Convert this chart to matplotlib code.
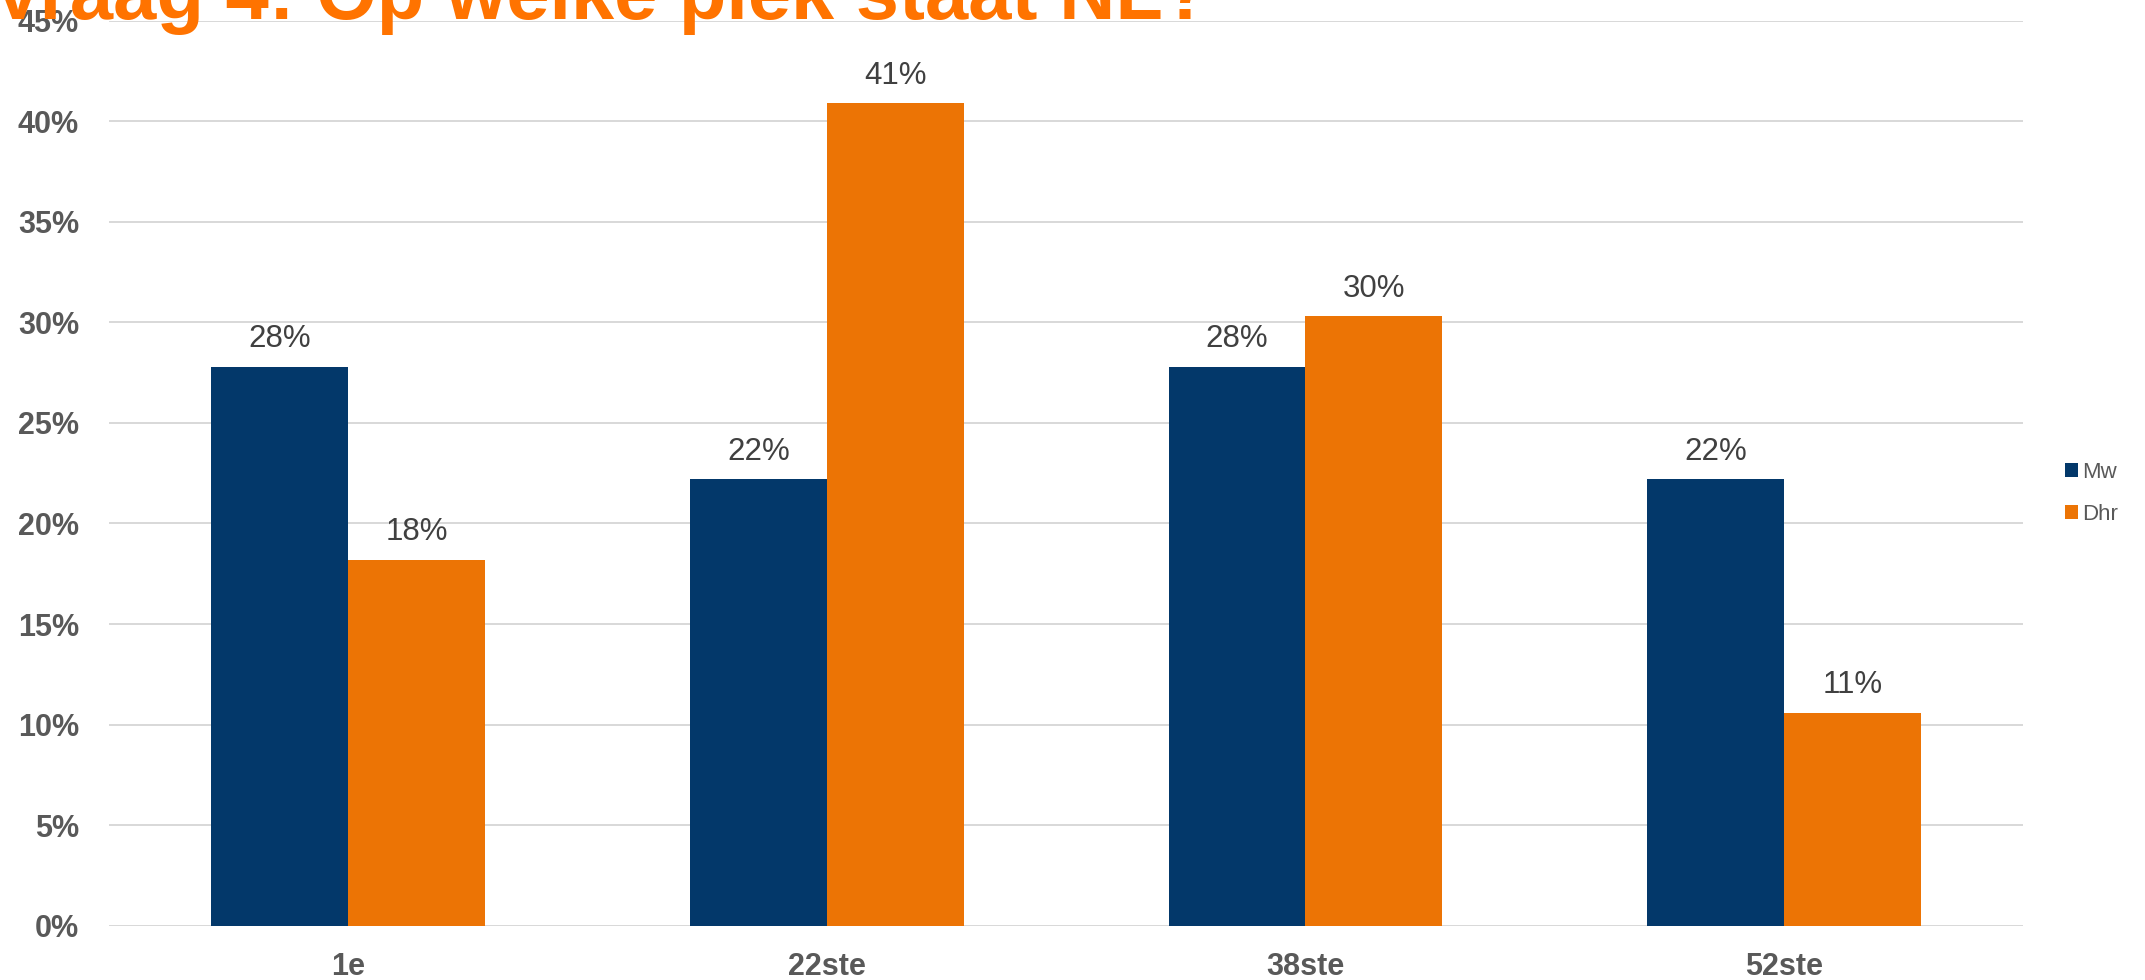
import matplotlib
matplotlib.use("Agg")
import matplotlib.pyplot as plt
import numpy as np
from matplotlib.patches import Patch

plt.rcParams['font.family'] = ['Liberation Sans', 'DejaVu Sans']

# Survey results: share of answers per option, in percent
categories = ["1e", "22ste", "38ste", "52ste"]
mw_values = [27.8, 22.2, 27.8, 22.2]
dhr_values = [18.2, 40.9, 30.3, 10.6]
series_names = ["Mw", "Dhr"]
y_ticks = [0, 5, 10, 15, 20, 25, 30, 35, 40, 45]
title_text = "Vraag 4: Op welke plek staat NL?"

NAVY = "#03386A"
ORANGE = "#EC7405"
TITLE_ORANGE = "#FF7300"
GRID = "#D9D9D9"
TICK_GRAY = "#595959"
LABEL_GRAY = "#404040"

W, H, DPI = 2145, 980, 100
fig = plt.figure(figsize=(W / DPI, H / DPI), dpi=DPI)

# Plot area in pixel terms, converted to figure fractions
left_px, right_px = 109, 2023.3
top_px, bottom_px = 20.7, 925.7
ax = fig.add_axes([left_px / W, (H - bottom_px) / H,
                   (right_px - left_px) / W, (bottom_px - top_px) / H])

x = np.arange(len(categories))
bar_w = 0.286

bars_mw = ax.bar(x - bar_w / 2, mw_values, width=bar_w, color=NAVY, zorder=3)
bars_dhr = ax.bar(x + bar_w / 2, dhr_values, width=bar_w, color=ORANGE, zorder=3)

for bars, vals in ((bars_mw, mw_values), (bars_dhr, dhr_values)):
    for b, v in zip(bars, vals):
        ax.annotate(f"{v:.0f}%", xy=(b.get_x() + b.get_width() / 2, v),
                    xytext=(0, 13.9), textcoords="offset points",
                    ha="center", va="baseline", fontsize=22.5,
                    color=LABEL_GRAY, zorder=4)

ax.set_xlim(-0.5, len(categories) - 0.5)
ax.set_ylim(0, 45)
ax.set_yticks(y_ticks)
ax.set_yticklabels([f"{t}%" for t in y_ticks])
ax.set_xticks(x)
ax.set_xticklabels(categories)

ax.grid(axis="y", color=GRID, linewidth=1.44, zorder=0)
ax.set_axisbelow(True)
for s in ax.spines.values():
    s.set_visible(False)

ax.tick_params(axis="y", length=0, pad=21.6, labelsize=22, labelcolor=TICK_GRAY)
ax.tick_params(axis="x", length=0, pad=19.0, labelsize=22, labelcolor=TICK_GRAY)
for lbl in ax.get_yticklabels() + ax.get_xticklabels():
    lbl.set_fontweight("bold")

# Legend on the right, square markers
handles = [Patch(facecolor=NAVY, edgecolor="none"),
           Patch(facecolor=ORANGE, edgecolor="none")]
fig.legend(handles, series_names, loc="center left",
           bbox_to_anchor=(2065 / W, (H - 493.4) / H),
           frameon=False, fontsize=16, labelcolor=TICK_GRAY,
           handlelength=0.6, handleheight=0.6, handletextpad=0.18,
           labelspacing=0.95, borderpad=0, borderaxespad=0)

# Title, partially running off the top-left edge
fig.text(1210 / W, (H - 19) / H, title_text, ha="right", va="baseline",
         fontsize=56, fontweight="bold", color=TITLE_ORANGE)

fig.savefig("out.png", dpi=DPI, facecolor="white")
